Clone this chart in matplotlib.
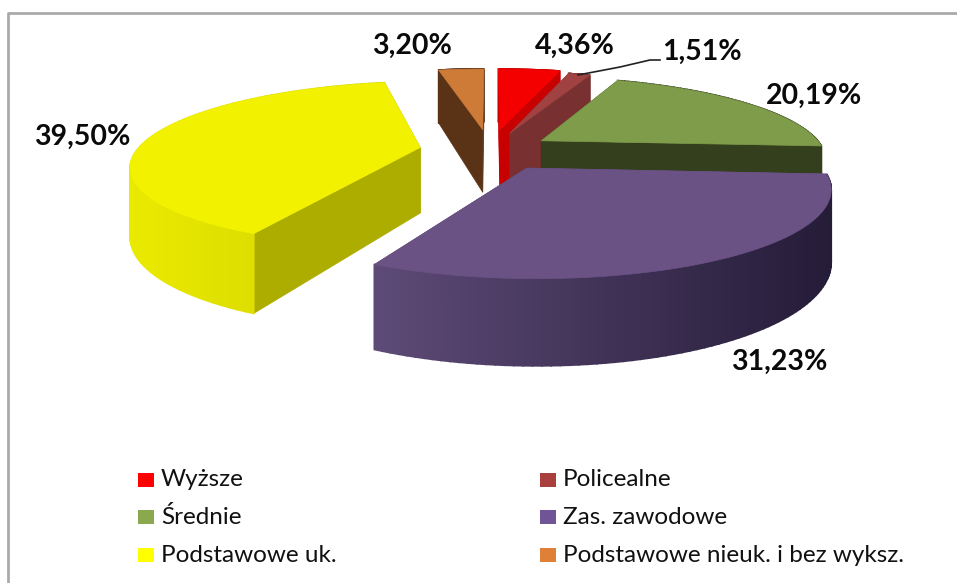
# Exploded 3D pie drawn by hand, matplotlib has no 3D pie with perspective
import numpy as np
import matplotlib
matplotlib.use("Agg")
import matplotlib.pyplot as plt
from matplotlib.patches import Polygon, Rectangle

plt.rcParams['font.family'] = ['Lato', 'DejaVu Sans']

# data
categories = ['Wyższe', 'Policealne', 'Średnie', 'Zas. zawodowe', 'Podstawowe uk.', 'Podstawowe nieuk. i bez wyksz.']
values = [4.36, 1.51, 20.19, 31.23, 39.50, 3.20]

# styles
top_colors = ['#f50000', '#a04242', '#7f9c4a', '#6b5285', '#f2f200', '#ce7b37']
face_colors = ['#c80000', '#783030', '#343f1e', '#5a4670', '#adad00', '#5a3317']
wall_left = ['#c80000', '#783030', '#343f1e', '#5e4b78', '#eaea00', '#5a3317']
wall_right = ['#c80000', '#783030', '#343f1e', '#251c38', '#d2d200', '#5a3317']
legend_colors = ['#ff0000', '#a94040', '#8aa84e', '#6f5596', '#ffff00', '#e08038']
explode = [0.27, 0.23, 0.22, 0.25, 0.25, 0.27]
label_pos = [(575, 46), (702, 52), (814, 96), (779, 362), (82, 137), (412, 46)]
draw_order = [5, 0, 1, 2, 4, 3]

# projection settings (pixels)
cx, cy = 490, 150
rx, ry = 283, 80
persp = 0.2
depth = 66


def project(X, Y, z=0.0):
    s = 1 / (1 - persp * Y)
    return cx + rx * X * s, cy + ry * Y * s + depth * z * s


fig = plt.figure(figsize=(9.57, 5.83), dpi=100)
ax = fig.add_axes([0, 0, 1, 1])
ax.set_xlim(0, 957)
ax.set_ylim(583, 0)
ax.axis('off')

# chart border, only left and top are inside the crop
ax.plot([8, 8, 957], [583, 13, 13], color='#aaaaaa', lw=2)

edges = np.cumsum([0] + values) / sum(values) * 2 * np.pi

for i in draw_order:
    t0, t1 = edges[i], edges[i + 1]
    mid = (t0 + t1) / 2
    ox = explode[i] * np.sin(mid)
    oy = -explode[i] * np.cos(mid)
    t = np.linspace(t0, t1, 80)
    X = ox + np.sin(t)
    Y = oy - np.cos(t)

    # radial cut faces
    for end in (0, -1):
        a = project(ox, oy)
        b = project(X[end], Y[end])
        c = project(X[end], Y[end], 1)
        d = project(ox, oy, 1)
        ax.add_patch(Polygon([a, b, c, d], closed=True, fc=face_colors[i], ec=face_colors[i], lw=0.5))

    # outer wall, shaded strip by strip
    c_l = np.array(matplotlib.colors.to_rgb(wall_left[i]))
    c_r = np.array(matplotlib.colors.to_rgb(wall_right[i]))
    xs_all = project(X, Y)[0]
    for j in range(len(t) - 1):
        f = (xs_all[j] - xs_all.min()) / (xs_all.max() - xs_all.min())
        col = c_l + (c_r - c_l) * f
        pts = [project(X[j], Y[j]), project(X[j + 1], Y[j + 1]),
               project(X[j + 1], Y[j + 1], 1), project(X[j], Y[j], 1)]
        ax.add_patch(Polygon(pts, closed=True, fc=col, ec=col, lw=1.2))

    # top surface
    px, py = project(X, Y)
    a = project(ox, oy)
    ax.add_patch(Polygon(np.column_stack([np.r_[a[0], px], np.r_[a[1], py]]), closed=True,
                         fc=top_colors[i], ec=top_colors[i], lw=0.5))

# leader line for the small slice
ax.plot([578, 620, 650, 660], [75, 67, 60, 60], color='#222222', lw=1.2)

# data labels
for v, (lx, ly) in zip(values, label_pos):
    ax.text(lx, ly, f"{v:.2f}%".replace('.', ','), ha='center', va='center',
            fontsize=20.5, fontweight='bold', color='#0a0a0a')

# legend
legend_x = [138, 540]
legend_y = [480, 517, 555]
for i, name in enumerate(categories):
    lx = legend_x[i % 2]
    ly = legend_y[i // 2]
    ax.add_patch(Rectangle((lx, ly - 7), 16, 14, fc=legend_colors[i], ec='none'))
    ax.text(lx + 23, ly, name, ha='left', va='center', fontsize=17.5, color='#111111')

fig.savefig('out.png', dpi=100)
